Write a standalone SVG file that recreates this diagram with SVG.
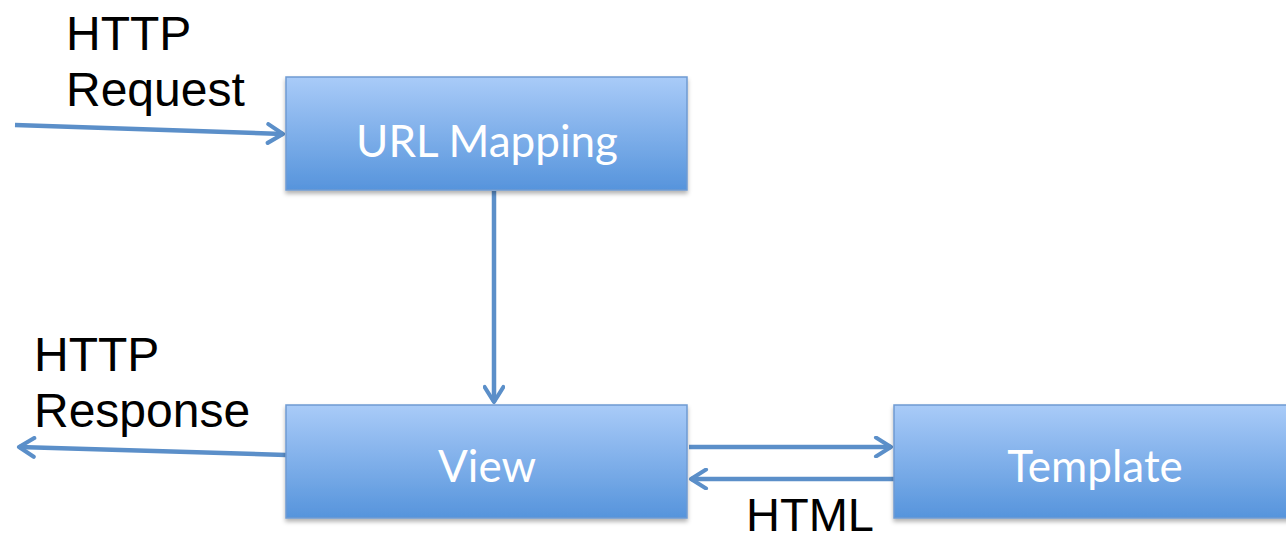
<svg xmlns="http://www.w3.org/2000/svg" width="1286" height="542" viewBox="0 0 1286 542">
<style>
.lbl{font-family:"Liberation Sans",Arial,sans-serif;font-size:48px;fill:#000}
.ntxt{font-family:Lato,"Open Sans",sans-serif;font-size:44px;fill:#fff;text-anchor:middle}
.box{fill:url(#g);stroke:#6f9bd2;stroke-width:1.5}
.con{stroke:#5b8fc9;stroke-width:4.5;fill:none;marker-end:url(#ah)}
</style>
<defs>
<linearGradient id="g" x1="0" y1="0" x2="0" y2="1">
<stop offset="0" stop-color="#a9cbf8"/>
<stop offset="1" stop-color="#5694dc"/>
</linearGradient>
<filter id="sh" x="-5%" y="-5%" width="110%" height="120%">
<feDropShadow dx="0" dy="3" stdDeviation="2" flood-color="#000" flood-opacity="0.3"/>
</filter>
<marker id="ah" viewBox="0 0 12 12" refX="10" refY="6" markerWidth="5" markerHeight="5" orient="auto" markerUnits="strokeWidth">
<path d="M2,1 L10,6 L2,11" fill="none" stroke="#5b8fc9" stroke-width="2.2" stroke-linecap="round" stroke-linejoin="round"/>
</marker>
</defs>
<g id="connectors">
<line class="con" x1="15" y1="125" x2="283" y2="134"/>
<line class="con" x1="494" y1="191" x2="494" y2="402"/>
<line class="con" x1="286" y1="455" x2="19" y2="447"/>
<line class="con" x1="689" y1="447" x2="891" y2="447"/>
<line class="con" x1="894" y1="479" x2="691" y2="479"/>
</g>
<g id="url-mapping">
<rect class="box" x="286" y="77" width="401" height="113" filter="url(#sh)"/>
<text class="ntxt" x="487" y="157">URL Mapping</text>
</g>
<g id="view">
<rect class="box" x="286" y="405" width="401" height="113" filter="url(#sh)"/>
<text class="ntxt" x="487" y="482">View</text>
</g>
<g id="template">
<rect class="box" x="894" y="405" width="400" height="113" filter="url(#sh)"/>
<text class="ntxt" x="1095" y="482">Template</text>
</g>
<g id="labels">
<text class="lbl" x="66" y="50">HTTP</text>
<text class="lbl" x="66" y="106">Request</text>
<text class="lbl" x="34" y="371">HTTP</text>
<text class="lbl" x="34" y="427">Response</text>
<text class="lbl" x="746" y="531" style="font-size:47px">HTML</text>
</g>
</svg>
